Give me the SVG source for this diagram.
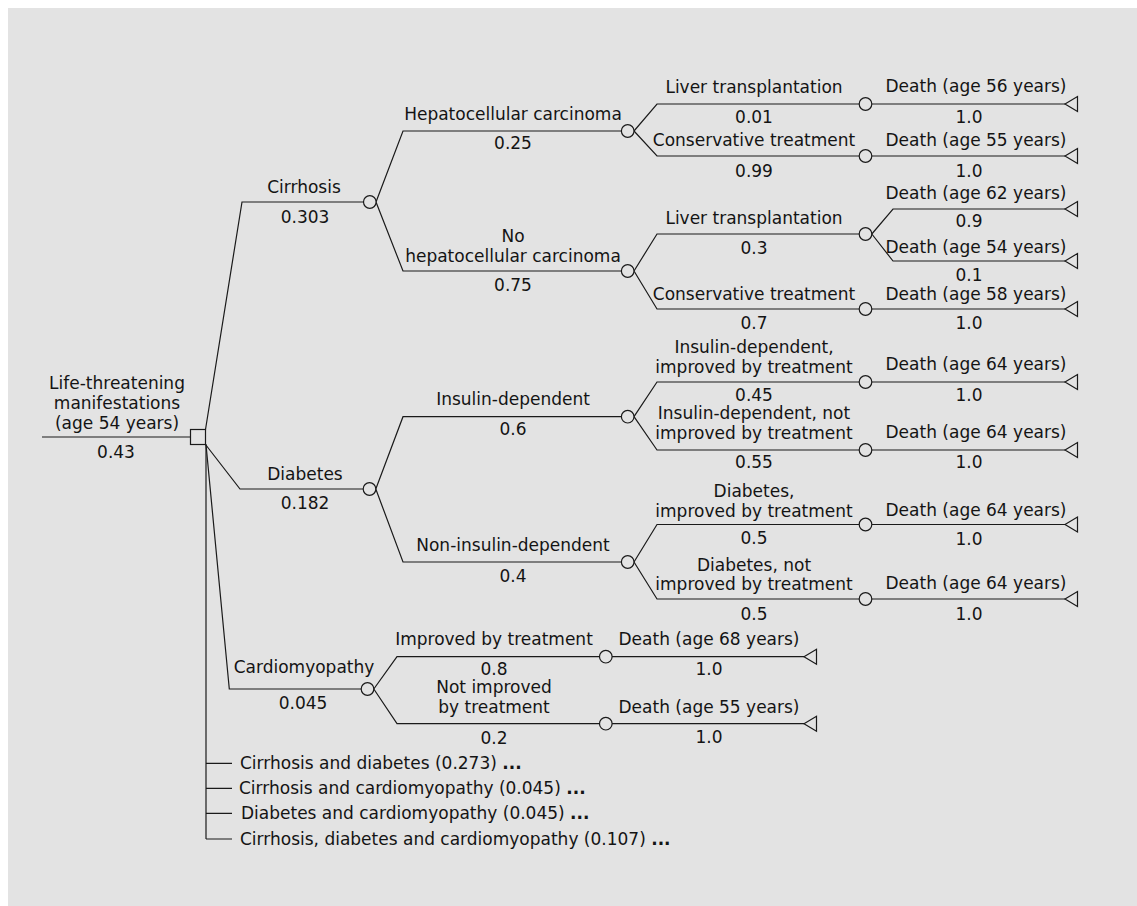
<svg xmlns="http://www.w3.org/2000/svg" width="1137" height="906" viewBox="0 0 1137 906">
<style>
.bg{fill:#e3e3e3}
.ln{fill:none;stroke:#1a1a1a;stroke-width:1.2}
.nd{fill:#e3e3e3;stroke:#1a1a1a;stroke-width:1.2}
text{font-family:"DejaVu Sans","Liberation Sans",sans-serif;font-size:17px;fill:#141414;text-anchor:middle}
.st{text-anchor:start}
.b{font-weight:bold}
</style>
<rect class="bg" x="8" y="8" width="1129" height="898"/>
<g id="connectors">
<path class="ln" d="M42,437H190.5"/>
<path class="ln" d="M205.5,429.5L242,202H363.5"/>
<path class="ln" d="M205.5,444.5L240,489H363.2"/>
<path class="ln" d="M206,444.5L229.3,689H361.2"/>
<path class="ln" d="M206,444.5V839"/>
<path class="ln" d="M206,763.3H232M206,788.3H232M206,813.3H232M206,839H232"/>
<path class="ln" d="M376,202L403,131H621.4M376,202L403,271H621.4"/>
<path class="ln" d="M634,131L657,104H859.2M634,131L657,156H859.2"/>
<path class="ln" d="M634,271L657,234H859.2M634,271L657,309H859.2"/>
<path class="ln" d="M871.8,104H1065M871.8,156H1065M871.8,309H1065"/>
<path class="ln" d="M871.8,234L893,209H1065M871.8,234L893,261H1065"/>
<path class="ln" d="M375.8,489L403,416.7H621.4M375.8,489L403,562H621.4"/>
<path class="ln" d="M634,416.7L657,382H859.2M634,416.7L657,450H859.2"/>
<path class="ln" d="M634,562L657,524.5H859.2M634,562L657,599H859.2"/>
<path class="ln" d="M871.8,382H1065M871.8,450H1065M871.8,524.5H1065M871.8,599H1065"/>
<path class="ln" d="M373.8,689L397,656.7H599.5M373.8,689L397,723.7H599.5"/>
<path class="ln" d="M612,656.7H804M612,723.7H804"/>
</g>
<g id="decision-root"><rect class="nd" x="190.5" y="429.5" width="15" height="15"/></g>
<g id="chance-cirrhosis"><circle class="nd" cx="369.8" cy="202" r="6.3"/></g>
<g id="chance-diabetes"><circle class="nd" cx="369.5" cy="489" r="6.3"/></g>
<g id="chance-cardio"><circle class="nd" cx="367.5" cy="689" r="6.3"/></g>
<g id="chance-hcc"><circle class="nd" cx="627.7" cy="131" r="6.3"/></g>
<g id="chance-nohcc"><circle class="nd" cx="627.7" cy="271" r="6.3"/></g>
<g id="chance-hcc-lt"><circle class="nd" cx="865.5" cy="104" r="6.3"/></g>
<g id="chance-hcc-ct"><circle class="nd" cx="865.5" cy="156" r="6.3"/></g>
<g id="chance-nohcc-lt"><circle class="nd" cx="865.5" cy="234" r="6.3"/></g>
<g id="chance-nohcc-ct"><circle class="nd" cx="865.5" cy="309" r="6.3"/></g>
<g id="chance-insulin"><circle class="nd" cx="627.7" cy="416.7" r="6.3"/></g>
<g id="chance-noninsulin"><circle class="nd" cx="627.7" cy="562" r="6.3"/></g>
<g id="chance-ins-imp"><circle class="nd" cx="865.5" cy="382" r="6.3"/></g>
<g id="chance-ins-notimp"><circle class="nd" cx="865.5" cy="450" r="6.3"/></g>
<g id="chance-dia-imp"><circle class="nd" cx="865.5" cy="524.5" r="6.3"/></g>
<g id="chance-dia-notimp"><circle class="nd" cx="865.5" cy="599" r="6.3"/></g>
<g id="chance-card-imp"><circle class="nd" cx="605.8" cy="656.7" r="6.3"/></g>
<g id="chance-card-notimp"><circle class="nd" cx="605.8" cy="723.7" r="6.3"/></g>
<g id="term-1"><polygon class="nd" points="1065,104 1077.5,96.5 1077.5,111.5"/></g>
<g id="term-2"><polygon class="nd" points="1065,156 1077.5,148.5 1077.5,163.5"/></g>
<g id="term-3"><polygon class="nd" points="1065,209 1077.5,201.5 1077.5,216.5"/></g>
<g id="term-4"><polygon class="nd" points="1065,261 1077.5,253.5 1077.5,268.5"/></g>
<g id="term-5"><polygon class="nd" points="1065,309 1077.5,301.5 1077.5,316.5"/></g>
<g id="term-6"><polygon class="nd" points="1065,382 1077.5,374.5 1077.5,389.5"/></g>
<g id="term-7"><polygon class="nd" points="1065,450 1077.5,442.5 1077.5,457.5"/></g>
<g id="term-8"><polygon class="nd" points="1065,524.5 1077.5,517 1077.5,532"/></g>
<g id="term-9"><polygon class="nd" points="1065,599 1077.5,591.5 1077.5,606.5"/></g>
<g id="term-10"><polygon class="nd" points="804,656.7 816.5,649.2 816.5,664.2"/></g>
<g id="term-11"><polygon class="nd" points="804,723.7 816.5,716.2 816.5,731.2"/></g>
<g id="labels">
<text x="117" y="389">Life-threatening</text>
<text x="117" y="409">manifestations</text>
<text x="117" y="429">(age 54 years)</text>
<text x="116" y="458">0.43</text>
<text x="304" y="193">Cirrhosis</text>
<text x="305" y="223">0.303</text>
<text x="513" y="120">Hepatocellular carcinoma</text>
<text x="513" y="149">0.25</text>
<text x="513" y="242">No</text>
<text x="513" y="262">hepatocellular carcinoma</text>
<text x="513" y="291">0.75</text>
<text x="754" y="93">Liver transplantation</text>
<text x="754" y="123">0.01</text>
<text x="754" y="146">Conservative treatment</text>
<text x="754" y="177">0.99</text>
<text x="754" y="224">Liver transplantation</text>
<text x="754" y="254">0.3</text>
<text x="754" y="300">Conservative treatment</text>
<text x="754" y="329">0.7</text>
<text x="976" y="92">Death (age 56 years)</text>
<text x="969" y="123">1.0</text>
<text x="976" y="146">Death (age 55 years)</text>
<text x="969" y="177">1.0</text>
<text x="976" y="199">Death (age 62 years)</text>
<text x="969" y="227">0.9</text>
<text x="976" y="253">Death (age 54 years)</text>
<text x="969" y="281">0.1</text>
<text x="976" y="300">Death (age 58 years)</text>
<text x="969" y="329">1.0</text>
<text x="305" y="480">Diabetes</text>
<text x="305" y="509">0.182</text>
<text x="513" y="405">Insulin-dependent</text>
<text x="513" y="435">0.6</text>
<text x="513" y="551">Non-insulin-dependent</text>
<text x="513" y="582">0.4</text>
<text x="754" y="353">Insulin-dependent,</text>
<text x="754" y="373">improved by treatment</text>
<text x="754" y="401">0.45</text>
<text x="754" y="419">Insulin-dependent, not</text>
<text x="754" y="439">improved by treatment</text>
<text x="754" y="468">0.55</text>
<text x="754" y="497">Diabetes,</text>
<text x="754" y="517">improved by treatment</text>
<text x="754" y="544">0.5</text>
<text x="754" y="571">Diabetes, not</text>
<text x="754" y="590">improved by treatment</text>
<text x="754" y="620">0.5</text>
<text x="976" y="370">Death (age 64 years)</text>
<text x="969" y="401">1.0</text>
<text x="976" y="438">Death (age 64 years)</text>
<text x="969" y="468">1.0</text>
<text x="976" y="516">Death (age 64 years)</text>
<text x="969" y="545">1.0</text>
<text x="976" y="589">Death (age 64 years)</text>
<text x="969" y="620">1.0</text>
<text x="304" y="673">Cardiomyopathy</text>
<text x="303" y="709">0.045</text>
<text x="494" y="645">Improved by treatment</text>
<text x="494" y="675">0.8</text>
<text x="494" y="693">Not improved</text>
<text x="494" y="713">by treatment</text>
<text x="494" y="744">0.2</text>
<text x="709" y="645">Death (age 68 years)</text>
<text x="709" y="675">1.0</text>
<text x="709" y="713">Death (age 55 years)</text>
<text x="709" y="743">1.0</text>
<text class="st" x="240" y="769">Cirrhosis and diabetes (0.273) <tspan class="b">...</tspan></text>
<text class="st" x="239" y="794">Cirrhosis and cardiomyopathy (0.045) <tspan class="b">...</tspan></text>
<text class="st" x="241" y="819">Diabetes and cardiomyopathy (0.045) <tspan class="b">...</tspan></text>
<text class="st" x="240" y="845">Cirrhosis, diabetes and cardiomyopathy (0.107) <tspan class="b">...</tspan></text>
</g>
</svg>
